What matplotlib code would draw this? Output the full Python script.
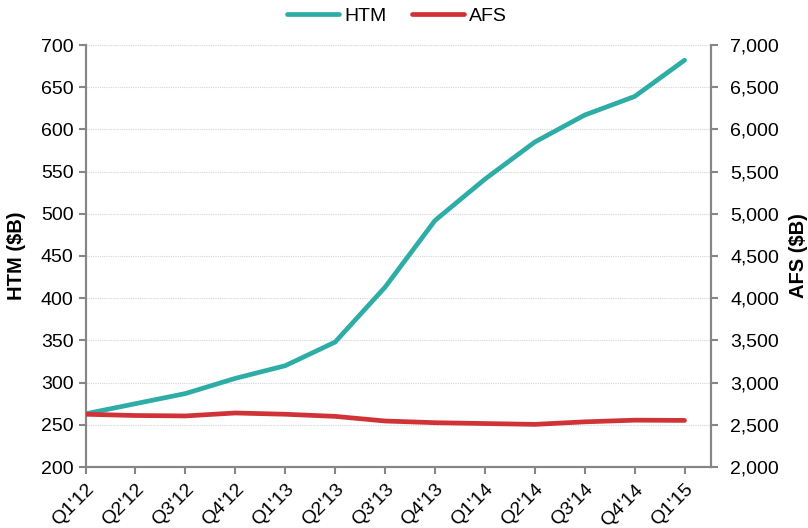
import matplotlib
matplotlib.use("Agg")
import matplotlib.pyplot as plt
from matplotlib.ticker import FuncFormatter

plt.rcParams['font.family'] = ['Liberation Sans', 'DejaVu Sans']

quarters = ["Q1'12", "Q2'12", "Q3'12", "Q4'12", "Q1'13", "Q2'13", "Q3'13",
            "Q4'13", "Q1'14", "Q2'14", "Q3'14", "Q4'14", "Q1'15"]
htm = [263, 275, 287, 305, 320, 348, 413, 492, 541, 585, 617, 639, 682]
afs = [2625, 2610, 2605, 2640, 2625, 2600, 2545, 2525, 2515, 2505, 2535, 2555, 2552]

teal = '#2EADA6'
red = '#D03236'
spine_c = '#868686'

fig = plt.figure(figsize=(8.08, 5.28), dpi=100)
ax = fig.add_axes([85.5/808, 1-467/528, (711-85.5)/808, (467-45)/528])
ax2 = ax.twinx()

x = list(range(len(quarters)))
l1, = ax.plot(x, htm, color=teal, lw=3.4, solid_joinstyle='round', solid_capstyle='round', label='HTM', zorder=3)
l2, = ax2.plot(x, afs, color=red, lw=3.4, solid_joinstyle='round', solid_capstyle='round', label='AFS', zorder=3)

ax.set_xlim(0, len(quarters)-1 + 0.53)
ax.set_ylim(200, 700)
ax2.set_ylim(2000, 7000)
ax.set_yticks(range(200, 701, 50))
ax2.set_yticks(range(2000, 7001, 500))
ax2.yaxis.set_major_formatter(FuncFormatter(lambda v, p: f"{int(v):,}"))
ax.set_xticks(x)
ax.set_xticklabels(quarters, rotation=45, ha='right', rotation_mode='anchor')

ax.grid(axis='y', color='#d4d4d4', linestyle=(0, (1, 1)), lw=0.8)
ax.set_axisbelow(True)

for a in (ax, ax2):
    a.spines['top'].set_visible(False)
    for s in ('left', 'right', 'bottom'):
        a.spines[s].set_color(spine_c)
        a.spines[s].set_linewidth(1.5)
    a.tick_params(axis='both', colors=spine_c, labelcolor='black', labelsize=14,
                  length=5, width=1.5, direction='out')
ax.tick_params(axis='x', pad=5)
ax2.tick_params(axis='y', pad=9)

ax.set_ylabel('HTM ($B)', fontsize=14.5, fontweight='bold')
ax2.set_ylabel('AFS ($B)', fontsize=14.5, fontweight='bold')
ax.yaxis.set_label_coords(-(85.5-26)/(711-85.5), 0.5)
ax2.yaxis.set_label_coords(1+(789-711)/(711-85.5), 0.5)

fig.legend(handles=[l1, l2], loc='center', bbox_to_anchor=(397/808, 1-16/528),
           ncol=2, frameon=False, fontsize=14, handlelength=2.7,
           handletextpad=0.25, columnspacing=1.3)

fig.savefig('out.png', dpi=100)
